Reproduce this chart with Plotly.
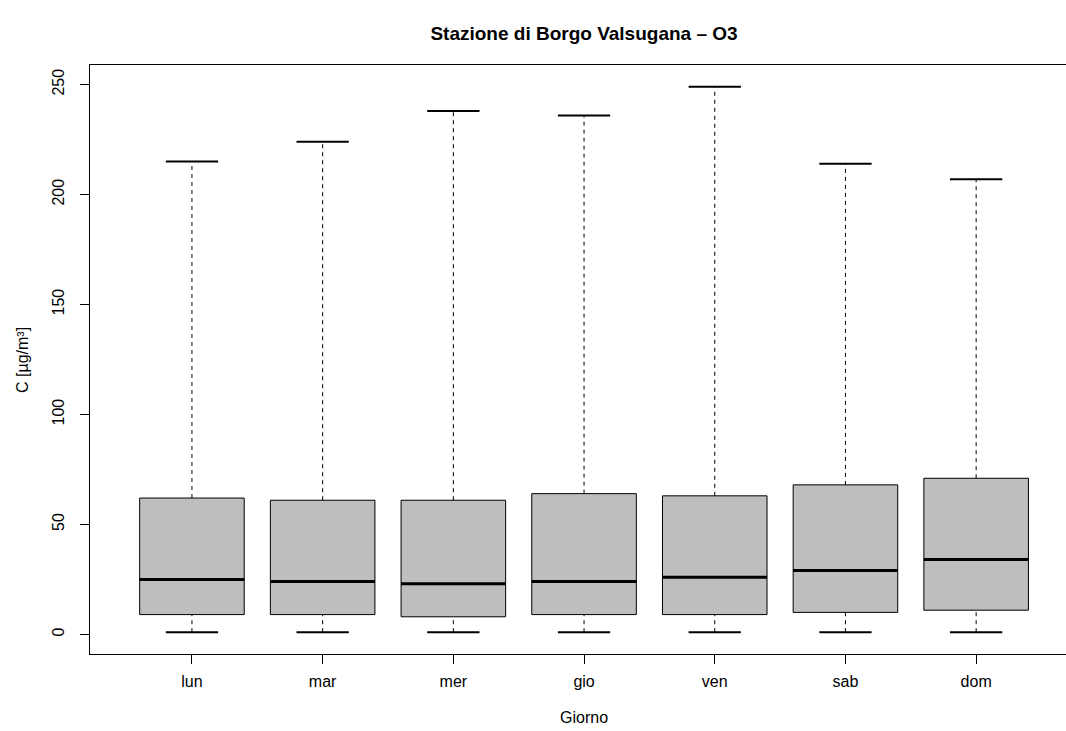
import plotly.graph_objects as go

days = ["lun", "mar", "mer", "gio", "ven", "sab", "dom"]
lower_whisker = [1, 1, 1, 1, 1, 1, 1]
q1 = [9, 9, 8, 9, 9, 10, 11]
median = [25, 24, 23, 24, 26, 29, 34]
q3 = [62, 61, 61, 64, 63, 68, 71]
upper_whisker = [215, 224, 238, 236, 249, 214, 207]
y_ticks = [0, 50, 100, 150, 200, 250]

pos = list(range(1, len(days) + 1))
box_w = 0.8
cap_w = 0.4

fig = go.Figure()

# dashed whiskers
wx, wy = [], []
for p, lo, a, b, hi in zip(pos, lower_whisker, q1, q3, upper_whisker):
    wx += [p, p, None, p, p, None]
    wy += [lo, a, None, b, hi, None]
fig.add_trace(go.Scatter(x=wx, y=wy, mode="lines",
                         line=dict(color="black", width=1, dash="4px,4px"),
                         hoverinfo="skip", showlegend=False))

# boxes
fig.add_trace(go.Box(x=pos, q1=q1, median=median, q3=q3,
                     lowerfence=q1, upperfence=q3,
                     width=box_w, whiskerwidth=0,
                     fillcolor="#bebebe", line=dict(color="black", width=1),
                     boxpoints=False, showlegend=False))

# caps
cx, cy = [], []
for p, lo, hi in zip(pos, lower_whisker, upper_whisker):
    cx += [p - cap_w / 2, p + cap_w / 2, None, p - cap_w / 2, p + cap_w / 2, None]
    cy += [lo, lo, None, hi, hi, None]
fig.add_trace(go.Scatter(x=cx, y=cy, mode="lines",
                         line=dict(color="black", width=2),
                         hoverinfo="skip", showlegend=False))

# medians
mx, my = [], []
for p, m in zip(pos, median):
    mx += [p - box_w / 2, p + box_w / 2, None]
    my += [m, m, None]
fig.add_trace(go.Scatter(x=mx, y=my, mode="lines",
                         line=dict(color="black", width=3),
                         hoverinfo="skip", showlegend=False))

ymin, ymax = min(lower_whisker), max(upper_whisker)
pad = (ymax - ymin) * 0.04

fig.update_layout(
    width=1066, height=731,
    margin=dict(l=90, r=0, t=65, b=77),
    paper_bgcolor="white", plot_bgcolor="white",
    font=dict(family="Liberation Sans, Arial, sans-serif", size=16, color="black"),
    title=dict(text="<b>Stazione di Borgo Valsugana – O3</b>",
               xref="paper", x=(584 - 90) / 976, xanchor="center",
               yref="container", y=1 - 33 / 731, yanchor="middle",
               font=dict(size=19)),
    showlegend=False,
)
fig.update_xaxes(range=[0.22, 0.22 + (1066 - 90) / 130.7],
                 tickvals=pos, ticktext=days,
                 ticks="outside", ticklen=9, tickcolor="black",
                 ticklabelstandoff=4,
                 showline=True, linecolor="black", linewidth=1, mirror=True,
                 showgrid=False, zeroline=False)
fig.update_yaxes(range=[ymin - pad, ymax + pad],
                 tickvals=y_ticks, tickangle=-90,
                 ticks="outside", ticklen=9, tickcolor="black",
                 ticklabelstandoff=10,
                 showline=True, linecolor="black", linewidth=1, mirror=False,
                 showgrid=False, zeroline=False)

fig.add_annotation(text="Giorno", xref="paper", yref="paper",
                   x=(584 - 90) / 976, y=-(717 - 654) / 589, xanchor="center", yanchor="middle",
                   showarrow=False, font=dict(size=16))
fig.add_annotation(text="C [µg/m³]", xref="paper", yref="paper",
                   x=-(90 - 22) / 976, y=(654 - 360) / 589, textangle=-90,
                   xanchor="center", yanchor="middle",
                   showarrow=False, font=dict(size=16))

fig.write_html("out.html", config={"displayModeBar": False},
               post_script="document.body.style.margin='0';")
